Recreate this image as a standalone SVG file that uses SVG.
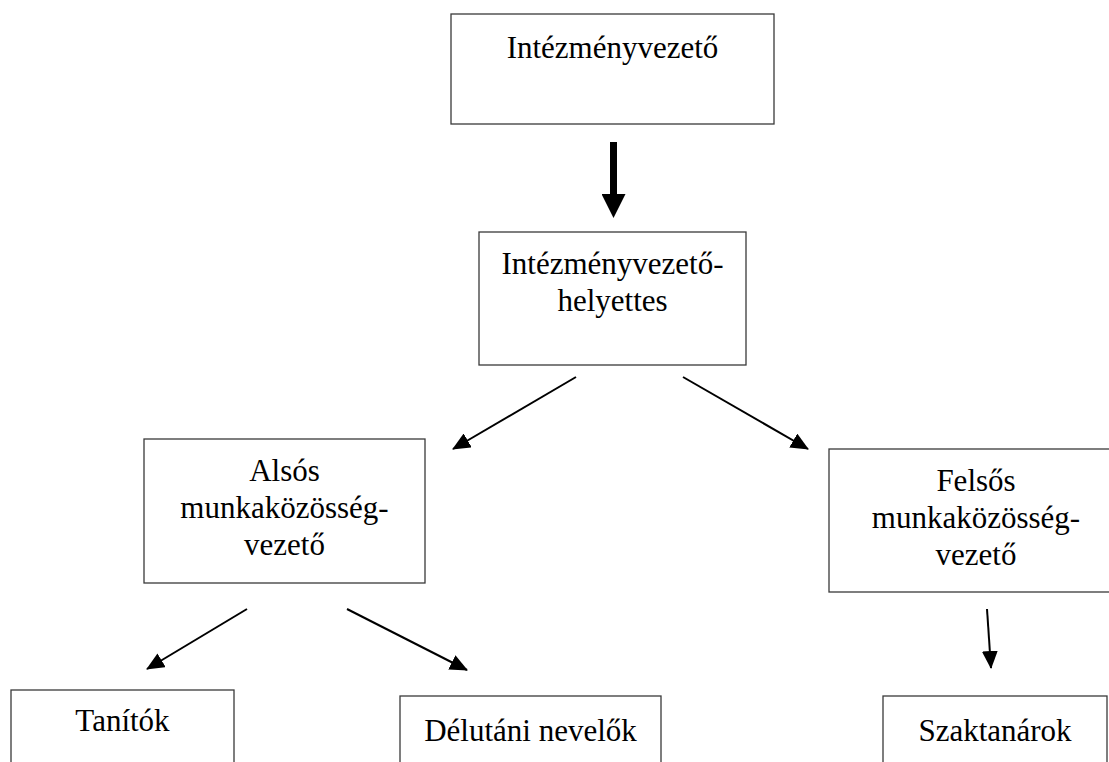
<svg xmlns="http://www.w3.org/2000/svg" width="1109" height="762" viewBox="0 0 1109 762">
<style>
.box{fill:#fff;stroke:#3a3a3a;stroke-width:1.3}
.t{font-family:"Liberation Serif","Times New Roman",serif;font-size:31px;fill:#000;text-anchor:middle}
.c{stroke:#000;stroke-width:2;fill:none}
.ck{stroke:#000;stroke-width:7;fill:none}
</style>
<defs>
<marker id="ah" markerUnits="userSpaceOnUse" markerWidth="18" markerHeight="16" refX="17" refY="8" orient="auto" viewBox="0 0 18 16">
<path d="M0,0 L18,8 L0,16 Z" fill="#000"/>
</marker>
<marker id="ahk" markerUnits="userSpaceOnUse" markerWidth="24" markerHeight="24" refX="1" refY="12" orient="auto" viewBox="0 0 24 24">
<path d="M0,0 L24,12 L0,24 Z" fill="#000"/>
</marker>
</defs>
<rect width="1109" height="762" fill="#fff"/>
<g id="connectors">
<line class="ck" x1="613.5" y1="142" x2="613.5" y2="195" marker-end="url(#ahk)"/>
<line class="c" x1="576" y1="377" x2="453" y2="449" marker-end="url(#ah)"/>
<line class="c" x1="683" y1="377" x2="808" y2="449" marker-end="url(#ah)"/>
<line class="c" x1="247" y1="609" x2="147" y2="669" marker-end="url(#ah)"/>
<line class="c" x1="347" y1="609" x2="467" y2="670" marker-end="url(#ah)"/>
<line class="c" x1="987" y1="609" x2="991" y2="668" marker-end="url(#ah)"/>
</g>
<g id="n-intezmenyvezeto">
<rect class="box" x="451" y="14" width="323" height="110"/>
<text class="t" x="612.5" y="58">Intézményvezető</text>
</g>
<g id="n-helyettes">
<rect class="box" x="479" y="232" width="267" height="133"/>
<text class="t" x="612.5" y="274">Intézményvezető-</text>
<text class="t" x="612.5" y="311">helyettes</text>
</g>
<g id="n-also">
<rect class="box" x="144" y="439" width="281" height="144"/>
<text class="t" x="284.5" y="481">Alsós</text>
<text class="t" x="284.5" y="518">munkaközösség-</text>
<text class="t" x="284.5" y="555">vezető</text>
</g>
<g id="n-felso">
<rect class="box" x="829" y="449" width="294" height="143"/>
<text class="t" x="976" y="491">Felsős</text>
<text class="t" x="976" y="528">munkaközösség-</text>
<text class="t" x="976" y="565">vezető</text>
</g>
<g id="n-tanitok">
<rect class="box" x="11" y="690" width="223" height="90"/>
<text class="t" x="122.5" y="731">Tanítók</text>
</g>
<g id="n-delutani">
<rect class="box" x="400" y="696" width="261" height="90"/>
<text class="t" x="530.5" y="741">Délutáni nevelők</text>
</g>
<g id="n-szaktanarok">
<rect class="box" x="883" y="696" width="224" height="90"/>
<text class="t" x="995" y="741">Szaktanárok</text>
</g>
</svg>
